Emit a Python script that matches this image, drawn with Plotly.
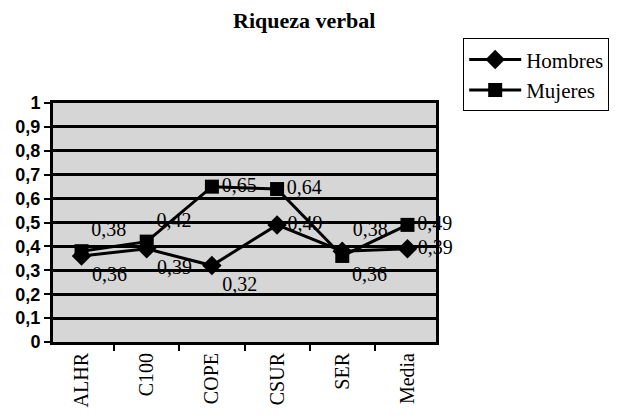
import plotly.graph_objects as go

categories = ["ALHR", "C100", "COPE", "CSUR", "SER", "Media"]
hombres = [0.36, 0.39, 0.32, 0.49, 0.38, 0.39]
mujeres = [0.38, 0.42, 0.65, 0.64, 0.36, 0.49]
hombres_pos = ["bottom right", "bottom right", "bottom right", "middle right", "top right", "middle right"]
mujeres_pos = ["top right", "top right", "middle right", "middle right", "bottom right", "middle right"]

SERIF = "Liberation Serif, Times New Roman, serif"
SANS = "Liberation Sans, Arial, sans-serif"

fig = go.Figure()
fig.add_trace(go.Scatter(
    x=categories, y=hombres, name="Hombres", mode="lines+markers+text",
    line=dict(color="black", width=3),
    marker=dict(symbol="diamond", size=15, color="black"),
    texttemplate="%{y:.2f}", textposition=hombres_pos, cliponaxis=False,
    textfont=dict(family=SERIF, size=20, color="black"),
))
fig.add_trace(go.Scatter(
    x=categories, y=mujeres, name="Mujeres", mode="lines+markers+text",
    line=dict(color="black", width=3),
    marker=dict(symbol="square", size=14, color="black"),
    texttemplate="%{y:.2f}", textposition=mujeres_pos, cliponaxis=False,
    textfont=dict(family=SERIF, size=20, color="black"),
))

fig.update_layout(
    width=621, height=419,
    paper_bgcolor="white", plot_bgcolor="#d6d6d6",
    separators=",.",
    font=dict(family=SERIF, color="black"),
    margin=dict(l=53, r=175, t=103, b=71),
    title=dict(text="<b>Riqueza verbal</b>", x=0.49, xanchor="center",
               yref="container", y=0.952, yanchor="middle",
               font=dict(family=SERIF, size=22, color="black")),
    legend=dict(x=1.071, y=1.27, xanchor="left", yanchor="top",
                bordercolor="black", borderwidth=1, bgcolor="white",
                font=dict(family=SERIF, size=21, color="black"),
                tracegroupgap=0, itemwidth=52),
    showlegend=True,
    xaxis=dict(
        type="category", tickson="boundaries", ticks="outside", ticklen=6, tickwidth=2,
        tickcolor="black", showline=True, linecolor="black", linewidth=3, mirror=True,
        showgrid=False, tickangle=-90,
        tickfont=dict(family=SERIF, size=20, color="black"),
    ),
    yaxis=dict(
        range=[0, 1], dtick=0.1, tickformat=".1~f", ticks="outside", ticklen=6, tickwidth=2,
        tickcolor="black", showline=True, linecolor="black", linewidth=3, mirror=True,
        showgrid=True, gridcolor="black", gridwidth=3, zeroline=False,
        tickfont=dict(family=SANS, size=18, color="black", weight="bold"),
    ),
)

fig.write_html("out.html")
